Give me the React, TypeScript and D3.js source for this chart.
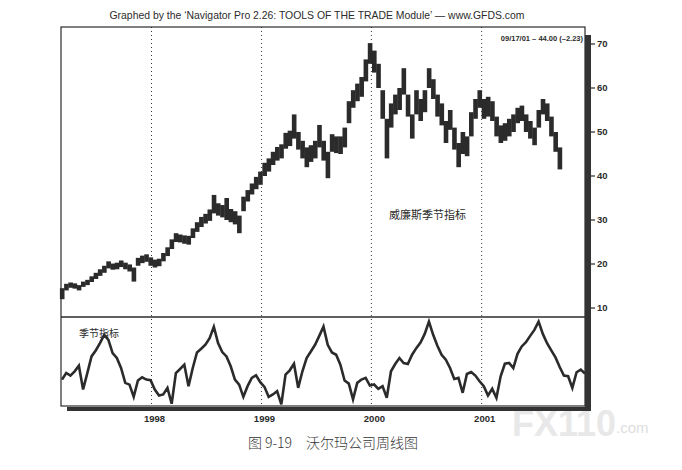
import React, { useEffect, useRef } from "react";
import * as d3 from "d3";

// weekly chart, sampled every 2 weeks from 1997-03-10
const startDate = new Date(1997, 2, 10);
const stepDays = 14;

const priceHigh = [
	14.5, 15.5, 15.8, 15.6, 15.2, 16.0, 16.4, 17.2, 18.0, 18.8,
	19.6, 20.6, 20.1, 20.3, 20.8, 20.3, 19.9, 19.2, 21.4, 21.9,
	22.2, 21.5, 21.0, 21.2, 22.5, 23.8, 25.6, 27.0, 26.7, 26.5,
	26.4, 28.1, 29.5, 30.7, 31.4, 32.4, 35.7, 33.8, 33.4, 35.0,
	32.5, 32.0, 31.0, 35.3, 36.8, 38.3, 39.8, 41.0, 43.0, 44.0,
	45.5, 46.6, 47.2, 49.8, 50.3, 54.0, 50.0, 48.0, 46.5, 47.0,
	48.0, 51.6, 48.0, 45.5, 49.5, 49.0, 49.0, 51.0, 57.0, 59.5,
	61.0, 62.5, 66.5, 70.2, 68.5, 65.5, 59.5, 53.0, 56.5, 58.5,
	60.0, 64.5, 58.5, 54.0, 59.5, 57.5, 59.5, 64.5, 62.0, 58.5,
	56.5, 52.5, 55.0, 51.0, 47.5, 50.0, 49.0, 54.5, 57.5, 59.5,
	57.5, 58.0, 57.0, 53.5, 51.5, 52.0, 53.0, 54.0, 55.5, 56.0,
	54.0, 52.5, 51.0, 55.0, 57.5, 56.5, 53.5, 50.0, 46.5,
];
const priceLow = [
	12.0, 14.0, 14.6, 14.4, 14.0, 14.8, 15.2, 15.9, 16.6, 17.3,
	18.0, 19.0, 18.7, 18.8, 19.3, 18.8, 18.3, 16.0, 19.6, 20.2,
	20.5, 19.6, 19.2, 19.5, 20.6, 21.8, 23.4, 25.0, 24.9, 24.6,
	24.4, 25.9, 27.3, 28.4, 29.2, 29.8, 31.5, 31.0, 30.6, 30.0,
	29.5, 29.0, 27.0, 32.0, 34.2, 35.8, 37.0, 38.0, 40.0, 41.0,
	42.5, 43.5, 44.0, 46.2, 46.8, 48.5, 46.0, 44.0, 42.0, 43.2,
	44.0, 46.5, 43.5, 39.5, 45.5, 45.2, 45.0, 46.5, 52.0, 55.5,
	57.0, 58.0, 61.5, 65.5, 63.5, 60.0, 53.0, 44.0, 51.0, 54.0,
	55.0, 58.5, 53.5, 48.5, 54.0, 52.5, 54.5, 60.0, 57.5, 53.5,
	51.5, 47.5, 50.5, 46.0, 42.0, 45.0, 44.5, 49.0, 53.0, 55.5,
	53.0, 53.5, 52.5, 49.0, 47.5, 48.0, 49.0, 50.0, 52.0, 52.5,
	50.0, 48.5, 47.0, 51.0, 54.0, 52.5, 49.0, 45.5, 41.5,
];

// Williams seasonal indicator (relative 0-100), runs past the last price
const seasonal = [
	29.7, 37.1, 34.2, 39.0, 45.3, 18.5, 37.0, 55.7, 62.4, 70.6,
	80.0, 74.3, 59.5, 53.9, 42.7, 26.0, 24.0, 10.3, 28.6, 32.3,
	29.7, 29.0, 18.5, 11.8, 13.0, 20.4, 2.5, 37.0, 41.6, 46.4,
	22.3, 42.7, 60.2, 64.3, 68.8, 76.2, 89.0, 70.6, 60.6, 55.7,
	44.6, 29.7, 24.0, 10.3, 22.3, 31.6, 34.5, 26.7, 21.5, 10.3,
	13.0, 16.7, 1.8, 35.3, 40.1, 47.5, 20.4, 39.0, 53.9, 61.3,
	68.8, 78.8, 89.2, 68.8, 60.2, 57.6, 46.4, 28.6, 25.2, 7.4,
	26.0, 29.7, 31.6, 23.0, 24.1, 19.3, 22.3, 9.2, 39.0, 47.2,
	53.9, 48.3, 47.2, 57.6, 65.0, 71.4, 81.0, 94.8, 80.0, 67.6,
	57.6, 52.0, 42.7, 30.4, 31.6, 14.8, 36.0, 38.2, 34.2, 27.8,
	22.3, 11.8, 19.3, 9.2, 33.4, 47.5, 48.3, 42.7, 58.7, 66.9,
	71.7, 78.8, 85.5, 94.8, 81.0, 70.6, 62.4, 54.6, 43.8, 34.2,
	33.4, 20.4, 37.9, 40.9, 36.4,
];

const priceTicks = [10, 20, 30, 40, 50, 60, 70];
const yearTicks = [1998, 1999, 2000, 2001];

const titleText =
	"Graphed by the \u2018Navigator Pro 2.26: TOOLS OF THE TRADE Module\u2019 \u2014 www.GFDS.com";
const lastLabel = "09/17/01 \u2013 44.00 (\u20132.23)";
const captionText = "图 9-19\u2003沃尔玛公司周线图";

const App: React.FC = () => {
	const ref = useRef<SVGSVGElement | null>(null);

	useEffect(() => {
		if (!ref.current) return;
		const svg = d3.select(ref.current);
		svg.selectAll("*").remove();

		const left = 61;
		const right = 585;
		const top = 27;
		const mid = 317;
		const bottom = 406;
		const ink = "#2b2b2b";
		const sans = "'Liberation Sans', Arial, sans-serif";
		const cjk = "'Noto Sans CJK SC', sans-serif";

		const dateAt = (i: number) => d3.timeDay.offset(startDate, i * stepDays);
		const x = d3
			.scaleTime()
			.domain([dateAt(0), dateAt(124)])
			.range([62, right]);
		const y = d3.scaleLinear().domain([10, 70]).range([308, 44]);
		const ys = d3.scaleLinear().domain([0, 100]).range([bottom, mid]);
		const barW = x(dateAt(1)) - x(dateAt(0));

		const defs = svg.append("defs");
		defs.append("clipPath")
			.attr("id", "lowClip")
			.append("rect")
			.attr("x", left)
			.attr("y", mid)
			.attr("width", right - left)
			.attr("height", bottom - mid);

		// watermark (under everything), one text element
		const wm = svg.append("text")
			.attr("x", 512)
			.attr("y", 436)
			.attr("font-family", sans);
		wm.append("tspan")
			.attr("font-weight", "bold")
			.attr("font-size", 36)
			.attr("fill", "#e8e8e8")
			.text("FX110");
		wm.append("tspan")
			.attr("dy", -3)
			.attr("font-size", 15)
			.attr("fill", "#dedede")
			.text(".com");

		// title
		svg.append("text")
			.attr("x", 317)
			.attr("y", 19)
			.attr("text-anchor", "middle")
			.attr("font-family", sans)
			.attr("font-size", 10.5)
			.attr("textLength", 415)
			.attr("lengthAdjust", "spacingAndGlyphs")
			.attr("fill", ink)
			.text(titleText);

		// year grid
		yearTicks.forEach((yr) => {
			const xx = x(new Date(yr, 0, 1));
			svg.append("line")
				.attr("x1", xx)
				.attr("x2", xx)
				.attr("y1", top)
				.attr("y2", bottom)
				.attr("stroke", "#333")
				.attr("stroke-width", 1)
				.attr("stroke-dasharray", "1,3");
			svg.append("text")
				.attr("x", xx + 3)
				.attr("y", 422)
				.attr("text-anchor", "middle")
				.attr("font-family", sans)
				.attr("font-weight", "bold")
				.attr("font-size", 9.5)
				.attr("fill", ink)
				.text(yr);
		});

		// frame
		svg.append("rect")
			.attr("x", left)
			.attr("y", top)
			.attr("width", right - left)
			.attr("height", bottom - top)
			.attr("fill", "none")
			.attr("stroke", ink)
			.attr("stroke-width", 1.2);
		svg.append("line")
			.attr("x1", left)
			.attr("x2", right)
			.attr("y1", mid)
			.attr("y2", mid)
			.attr("stroke", ink)
			.attr("stroke-width", 1.4);

		// price bars
		const idx = d3.range(priceHigh.length);
		svg.append("g")
			.selectAll("rect")
			.data(idx)
			.enter()
			.append("rect")
			.attr("x", (i) => x(dateAt(i)) - barW / 2)
			.attr("width", barW + 0.4)
			.attr("y", (i) => y(priceHigh[i]))
			.attr("height", (i) => y(priceLow[i]) - y(priceHigh[i]))
			.attr("fill", ink);

		// seasonal line
		const line = d3
			.line<number>()
			.x((_, i) => x(dateAt(i)))
			.y((d) => ys(d));
		svg.append("path")
			.datum(seasonal)
			.attr("clip-path", "url(#lowClip)")
			.attr("d", line)
			.attr("fill", "none")
			.attr("stroke", ink)
			.attr("stroke-width", 2.6)
			.attr("stroke-linejoin", "miter");

		// right axis bar + ticks
		svg.append("rect")
			.attr("x", right)
			.attr("y", 35)
			.attr("width", 6)
			.attr("height", 376)
			.attr("fill", "#333");
		priceTicks.forEach((t) => {
			svg.append("line")
				.attr("x1", right + 6)
				.attr("x2", right + 10)
				.attr("y1", y(t))
				.attr("y2", y(t))
				.attr("stroke", ink)
				.attr("stroke-width", 1.2);
			svg.append("text")
				.attr("x", right + 12)
				.attr("y", y(t))
				.attr("dy", "0.35em")
				.attr("font-family", sans)
				.attr("font-weight", "bold")
				.attr("font-size", 9.5)
				.attr("fill", ink)
				.text(t);
		});

		// bottom bar
		svg.append("rect")
			.attr("x", 67)
			.attr("y", 407)
			.attr("width", right + 6 - 67)
			.attr("height", 4)
			.attr("fill", "#333");

		// labels
		svg.append("text")
			.attr("x", 583)
			.attr("y", 41)
			.attr("text-anchor", "end")
			.attr("font-family", sans)
			.attr("font-weight", "bold")
			.attr("font-size", 7.5)
			.attr("fill", ink)
			.text(lastLabel);
		svg.append("text")
			.attr("x", 389)
			.attr("y", 219)
			.attr("font-family", cjk)
			.attr("font-size", 11)
			.attr("fill", ink)
			.text("威廉斯季节指标");
		svg.append("text")
			.attr("x", 79)
			.attr("y", 337)
			.attr("font-family", cjk)
			.attr("font-size", 10)
			.attr("fill", ink)
			.text("季节指标");
		svg.append("text")
			.attr("x", 333)
			.attr("y", 448)
			.attr("text-anchor", "middle")
			.attr("font-family", cjk)
			.attr("font-weight", 300)
			.attr("font-size", 14)
			.attr("fill", "#333")
			.text(captionText);

		return () => {
			svg.selectAll("*").remove();
		};
	}, []);

	return (
		<svg
			ref={ref}
			width={682}
			height={470}
			style={{ position: "absolute", left: 0, top: 0, background: "#fff" }}
		/>
	);
};

export default App;
